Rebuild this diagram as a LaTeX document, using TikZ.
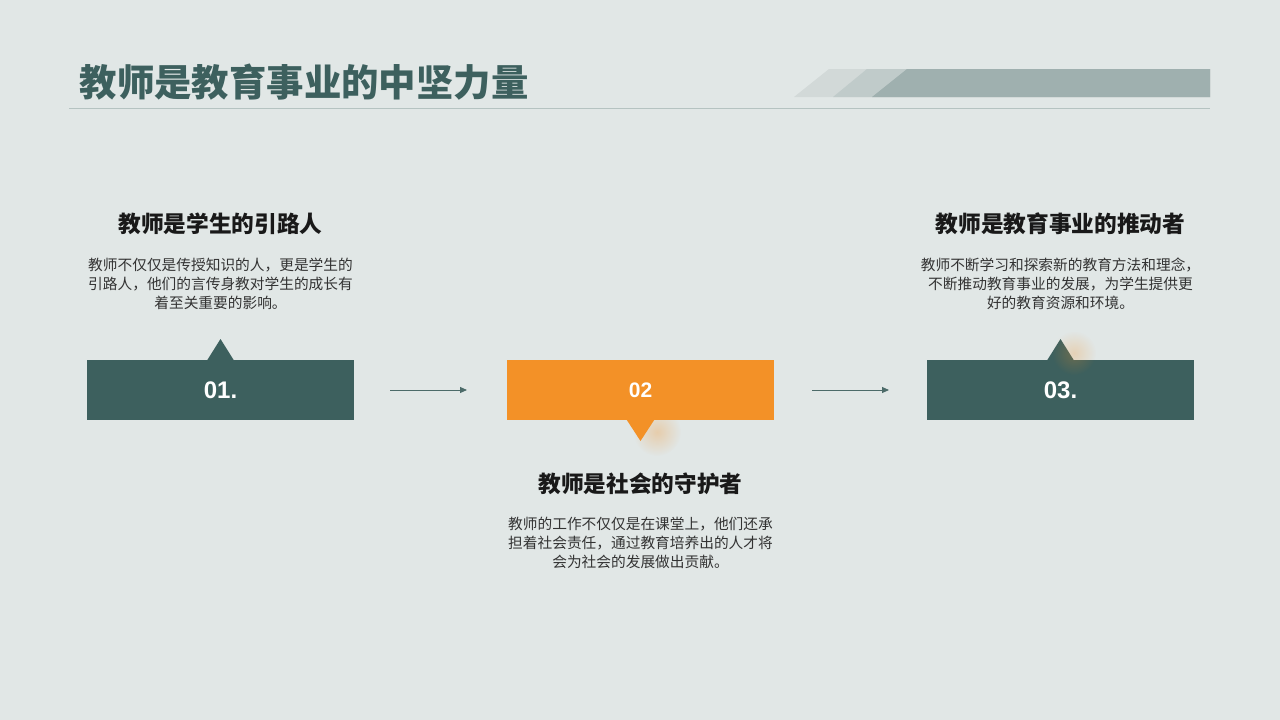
\documentclass[tikz,border=0pt]{standalone}
\usepackage{fontspec}
\setmainfont{Noto Sans CJK SC}
\newfontfamily\numfont{Liberation Sans}
\usetikzlibrary{positioning,arrows.meta,calc,fadings}
\tikzfading[name=glowfade,inner color=transparent!0,outer color=transparent!100]
\definecolor{bg}{HTML}{E1E7E6}
\definecolor{dgreen}{HTML}{3D605E}
\definecolor{orng}{HTML}{F39127}
\definecolor{arrowc}{HTML}{4C6B69}
\definecolor{rule}{HTML}{B5C3C1}
\definecolor{barA}{HTML}{D2D9D8}
\definecolor{barB}{HTML}{C0CBCA}
\definecolor{barC}{HTML}{9FB0AF}

\begin{document}
\begin{tikzpicture}[x=1pt,y=-1pt,node distance=153pt,
box/.style={fill=dgreen,minimum width=267pt,minimum height=60pt,inner sep=0pt,outer sep=0pt,text=white,font=\numfont\bfseries\fontsize{24}{24}\selectfont},
head/.style={inner sep=0pt,text=black!90,font=\bfseries\fontsize{22.7}{26}\selectfont},
body/.style={inner sep=0pt,align=center,text=black!80,font=\fontsize{14.7}{19}\selectfont},
arr/.style={-{Triangle[length=7pt,width=6pt]},draw=arrowc,line width=0.9pt}]
\fill[bg] (0,0) rectangle (1280,720);
% title bar
\fill[barA] (794,97) -- (829,69) -- (1210,69) -- (1210,97) -- cycle;
\fill[barB] (833,97) -- (867,69) -- (1210,69) -- (1210,97) -- cycle;
\fill[barC] (872,97) -- (907,69) -- (1210,69) -- (1210,97) -- cycle;
\draw[rule,line width=1pt] (69,108) -- (1210,108);
\node[anchor=west,inner sep=0pt,text=dgreen,font=\bfseries\fontsize{37.4}{40}\selectfont] (title) at (79.5,82) {教师是教育事业的中坚力量};
% steps
\fill[orng,path fading=glowfade,opacity=0.3] (657,432) circle (24pt);
\node[box] (b1) at (220.5,390) {01.};
\node[box,fill=orng,right=of b1,font=\numfont\bfseries\fontsize{21}{21}\selectfont] (b2) {02};
\node[box,right=of b2] (b3) {03.};
\fill[dgreen] ([xshift=-13.5pt,yshift=-0.5pt]b1.north) -- ++(13.5,-21.5) -- ++(13.5,21.5) -- cycle;
\fill[orng] ([xshift=-14pt,yshift=0.5pt]b2.south) -- ++(14,21.5) -- ++(14,-21.5) -- cycle;
\fill[dgreen] ([xshift=-13.5pt,yshift=-0.5pt]b3.north) -- ++(13.5,-21.5) -- ++(13.5,21.5) -- cycle;
\fill[orng,path fading=glowfade,opacity=0.25] (1074,353) circle (22pt);
\draw[arr,shorten <=36pt,shorten >=40pt] (b1) -- (b2);
\draw[arr,shorten <=38pt,shorten >=38pt] (b2) -- (b3);
% texts
\node[body,above=50pt of b1] (t1) {教师不仅仅是传授知识的人，更是学生的\\引路人，他们的言传身教对学生的成长有\\着至关重要的影响。};
\node[head,above=23pt of t1] (h1) {教师是学生的引路人};
\node[head,below=53pt of b2] (h2) {教师是社会的守护者};
\node[body,below=22pt of h2] (t2) {教师的工作不仅仅是在课堂上，他们还承\\担着社会责任，通过教育培养出的人才将\\会为社会的发展做出贡献。};
\node[body,above=50pt of b3] (t3) {教师不断学习和探索新的教育方法和理念，\\不断推动教育事业的发展，为学生提供更\\好的教育资源和环境。};
\node[head,above=23pt of t3] (h3) {教师是教育事业的推动者};
\end{tikzpicture}
\end{document}
